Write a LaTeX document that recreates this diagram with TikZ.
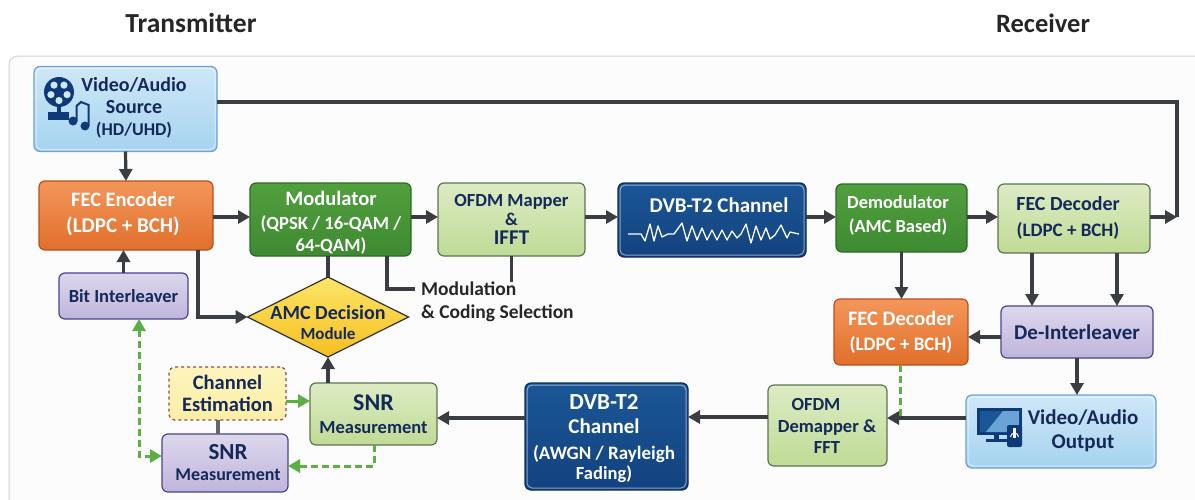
\documentclass[tikz,border=0pt]{standalone}
\usepackage{fontspec}
\setmainfont{Carlito}
\usetikzlibrary{arrows.meta}
\usetikzlibrary{shapes.geometric}
\definecolor{ink}{HTML}{14295A}
\definecolor{wire}{HTML}{3A3D42}
\definecolor{linkgreen}{HTML}{5CAE45}
\definecolor{iconblue}{HTML}{0F3A78}
\definecolor{bluetop}{HTML}{CFE7F7}\definecolor{bluelow}{HTML}{A5D3F0}\definecolor{blueedge}{HTML}{6BA3D6}
\definecolor{orangetop}{HTML}{F4965A}\definecolor{orangelow}{HTML}{E06F2C}\definecolor{orangeedge}{HTML}{B94F1E}
\definecolor{greentop}{HTML}{529F3F}\definecolor{greenlow}{HTML}{3E8A31}\definecolor{greenedge}{HTML}{2A6B24}
\definecolor{paletop}{HTML}{DDEBC4}\definecolor{palelow}{HTML}{BFDB95}\definecolor{paleedge}{HTML}{5B7553}
\definecolor{lilactop}{HTML}{DDD7EC}\definecolor{lilaclow}{HTML}{BFB5DC}\definecolor{lilacedge}{HTML}{4B4390}
\definecolor{navytop}{HTML}{1B5696}\definecolor{navylow}{HTML}{13427F}\definecolor{navyedge}{HTML}{0E2C63}
\definecolor{amctop}{HTML}{FCE566}\definecolor{amclow}{HTML}{F6BE22}
\definecolor{esttop}{HTML}{FDF4BE}\definecolor{estlow}{HTML}{FBEFA6}\definecolor{estedge}{HTML}{8A4B52}
\newcommand{\fs}[1]{\fontsize{#1}{\baselineskip}\selectfont}
\tikzset{
  txt/.style 2 args={align=center, font=\fontsize{#1}{#2}\selectfont\bfseries},
  block/.style={rectangle, rounded corners=6pt, inner sep=0pt, outer sep=0pt, line width=1.2pt, draw},
  bluebox/.style={block, top color=bluetop, bottom color=bluelow, draw=blueedge, text=ink},
  orangebox/.style={block, top color=orangetop, bottom color=orangelow, draw=orangeedge, text=white},
  greenbox/.style={block, top color=greentop, bottom color=greenlow, draw=greenedge, text=white},
  palebox/.style={block, top color=paletop, bottom color=palelow, draw=paleedge, text=ink},
  lilacbox/.style={block, top color=lilactop, bottom color=lilaclow, draw=lilacedge, text=ink},
  navybox/.style={block, top color=navytop, bottom color=navylow, draw=navyedge, text=white},
  flow/.style={wire, line width=3.2pt, -{Triangle[length=12pt,width=13pt]}},
  plainflow/.style={wire, line width=3.2pt},
  softflow/.style={linkgreen, line width=3pt, -{Triangle[length=12pt,width=13pt]}},
  softdash/.style={softflow, dash pattern=on 7pt off 4pt}
}
\begin{document}
\begin{tikzpicture}[x=1pt, y=-1pt]
    \useasboundingbox (0,0) rectangle (1195,499);
    \fill[white] (0,0) rectangle (1195,499);
    \clip (0,0) rectangle (1195,499);
    \draw[black!17, fill=black!1, line width=1pt, rounded corners=9pt] (9,56) rectangle (1215,520);

    \node[txt={27.5}{30}, text=black!85] (txtitle) at (191,23) {Transmitter};
    \node[txt={26.5}{30}, text=black!85] (rxtitle) at (1043,23) {Receiver};

    \node[bluebox, minimum width=183pt, minimum height=85pt] (source) at (125.5,109) {};
    \node[txt={20}{22}, text=ink] (sourcetxt) at (134,108) {Video/Audio\\Source\\\fs{18}(HD/UHD)};
    \node[orangebox, minimum width=174pt, minimum height=69pt] (fecenc) at (126,215.5) {};
    \node[txt={20.5}{26}, text=white] (fecenctxt) at (123,214) {FEC Encoder\\\fs{21}(LDPC + BCH)};
    \node[greenbox, minimum width=161pt, minimum height=73pt] (mod) at (330.5,219.5) {};
    \node[txt={18.6}{21.5}, text=white] (modtxt) at (331,222.5) {\fs{20.5}Modulator\\[2.5pt]\fs{18.6}(QPSK / 16-QAM /\\\fs{18.6}64-QAM)};
    \node[palebox, txt={18}{19}, minimum width=147pt, minimum height=73pt] (mapper) at (511.5,219.5) {\fs{18.5}OFDM Mapper\\\fs{18}\&\\\fs{21}IFFT};
    \node[navybox, minimum width=188pt, minimum height=74pt] (chantop) at (712,220) {};
    \node[txt={21}{24}, text=white] (chantoptxt) at (719,205) {DVB-T2 Channel};
    \node[greenbox, minimum width=131pt, minimum height=68pt] (demod) at (901.5,218) {};
    \node[txt={18.4}{24}, text=white] (demodtxt) at (898,215) {Demodulator\\(AMC Based)};
    \node[palebox, minimum width=152pt, minimum height=69pt] (fecdec) at (1074,218.5) {};
    \node[txt={20}{26}, text=ink] (fecdectxt) at (1068,218) {FEC Decoder\\\fs{19}(LDPC + BCH)};
    \node[lilacbox, txt={18.5}{22}, minimum width=129pt, minimum height=46pt] (bitint) at (123.5,296) {Bit Interleaver};
    \node[diamond, aspect=2, inner sep=0pt, outer sep=0pt, draw=black!80, line width=1.2pt, top color=amctop, bottom color=amclow, minimum width=161pt, minimum height=80pt] (amc) at (328,317) {};
    \node[txt={20}{20}, text=ink] (amctxt) at (328,323) {AMC Decision\\\fs{17}Module};
    \node[txt={19.5}{23}, align=left, anchor=west, inner sep=0pt, text=black!85] (modsel) at (421,302) {Modulation\\\& Coding Selection};
    \node[orangebox, txt={20.5}{25}, minimum width=134pt, minimum height=66pt] (fecorange) at (901,332) {FEC Decoder\\\fs{19}(LDPC + BCH)};
    \node[lilacbox, txt={21}{24}, minimum width=152pt, minimum height=52pt] (deint) at (1077,332) {De-Interleaver};
    \node[block, draw=estedge, dashed, top color=esttop, bottom color=estlow, text=ink, txt={20.5}{22}, minimum width=117pt, minimum height=53pt] (chanest) at (227.5,393.5) {Channel\\Estimation};
    \node[palebox, txt={20}{23}, minimum width=127pt, minimum height=62pt] (snrup) at (373.5,414) {\fs{24}SNR\\\fs{18.5}Measurement};
    \node[lilacbox, minimum width=126pt, minimum height=58pt] (snrlow) at (225,463) {};
    \node[txt={18}{21}, text=ink] (snrlowtxt) at (228,463) {\fs{23}SNR\\\fs{18}Measurement};
    \node[navybox, minimum width=163pt, minimum height=107pt] (chanlow) at (606.5,436.5) {};
    \node[txt={21}{22}, text=white] (chanlowtxt) at (604,439) {\fs{23}DVB-T2\\[2pt]\fs{21}Channel\\[4pt]\fs{19}(AWGN / Rayleigh\\[-2pt]\fs{18.5}Fading)};
    \node[palebox, minimum width=119pt, minimum height=81pt] (demapper) at (827.5,425.5) {};
    \node[txt={18.5}{21.5}, text=ink] (demappertxt) at (827,426) {OFDM\hspace*{22pt}\\Demapper \&\\FFT};
    \node[bluebox, minimum width=190pt, minimum height=73pt] (output) at (1061,431.5) {};
    \node[txt={21}{24}, text=ink] (outputtxt) at (1083,431) {Video/Audio\\Output};

    \foreach \n in {source, output, chantop, chanlow}{
      \draw[white, opacity=0.5, line width=1pt, rounded corners=5pt] ([shift={(2,2)}]\n.north west) rectangle ([shift={(-2,-2)}]\n.south east);
    }

    \begin{scope}[iconblue]
      \fill (59,92) circle (15);
      \foreach \a in {18, 90, 162, 234, 306}{
        \fill[bluetop] (59,92) ++(\a:8.5) circle (3.6);
      }
      \fill (57,105) rectangle (61,113);
      \fill (48,112) rectangle (69,120);
      \fill (73,121) circle (4.5) (85,126) circle (4.5);
      \draw[line width=2pt] (76.5,121) -- (76.5,106) -- (81,102) -- (88.7,105) -- (88.7,126);
    \end{scope}
    \begin{scope}[iconblue]
      \fill (977,408) rectangle (1022,435);
      \fill[navytop] (980,411) rectangle (1019,432);
      \fill[blueedge] (986,432) -- (1003,411) -- (1019,411) -- (1019,425) -- (1007,432) -- cycle;
      \fill (994,435) rectangle (999,440);
      \fill (986,439) rectangle (1008,441.5);
      \fill[rounded corners=2pt] (1007,425) rectangle (1022,447);
      \fill[white] (1013,428) rectangle (1016,438);
      \draw[white, line width=1pt] (1010.5,437) arc (180:360:4 and 4);
    \end{scope}
    \draw[white, line width=1.3pt, line join=round] plot coordinates {(628,234) (641,234) (645,241) (650,224) (654,241) (658,226) (662,237) (668,234) (674,234) (682,223) (687,241) (692,226) (697,240) (702,228) (707,240) (712,230) (717,240) (722,230) (727,240) (732,231) (737,238) (741,234) (746,224) (751,243) (756,226) (761,240) (766,228) (770,239) (775,235) (781,225) (787,238) (790,232) (799,234)};

    \coordinate (mainline) at (0,217);
    \coordinate (corner) at (1177,217);
    \coordinate (tap) at (900,418);
    \coordinate (lowline) at (0,417);
    \draw[plainflow] (source.east |- 0,102) -| (corner);
    \draw[flow] (source.south) -- (fecenc.north);
    \draw[flow] (bitint.north) -- (bitint.north |- fecenc.south);
    \foreach \a/\b in {fecenc/mod.west, mod/mapper.west, mapper/chantop.west, chantop/demod.west, demod/fecdec.west, fecdec/corner}{
      \draw[flow] (\a.east |- mainline) -- (\b |- mainline);
    }
    \draw[plainflow] (amc.north |- mod.south) -- (amc.north);
    \draw[flow] ([xshift=72pt]fecenc.south) |- (amc.west);
    \draw[plainflow] ([xshift=56.5pt]mod.south) |- (415,289);
    \draw[plainflow] (mapper.south) -- (mapper.south |- modsel.north);
    \draw[flow] (demod.south) -- (demod.south |- fecorange.north);
    \foreach \x in {-42, 43}{
      \draw[flow] ([xshift=\x pt]fecdec.south) -- ([xshift=\x pt]fecdec.south |- deint.north);
    }
    \draw[flow] ([yshift=-5pt]deint.west) -- ([yshift=-5pt]deint.west -| fecorange.east);
    \draw[flow] (deint.south) -- (deint.south |- output.north);
    \draw[softdash, -] (fecorange.south -| tap) -- (tap);
    \draw[flow] (output.west |- 0,418) -- (demapper.east |- 0,418);
    \draw[flow] (demapper.west |- lowline) -- (chanlow.east |- lowline);
    \draw[flow] (chanlow.west |- 0,418) -- (snrup.east |- 0,418);
    \draw[flow] (amc.south |- snrup.north) -- (amc.south);
    \draw[softflow] (chanest.east |- 0,401) -- (snrup.west |- 0,401);
    \draw[plainflow, black!60] (chanest.south -| 218,0) -- (snrlow.north -| 218,0);
    \draw[softdash] (snrup.south -| 374,0) |- (snrlow.east |- 0,466);
    \draw[softdash, {Triangle[length=12pt,width=13pt]}-{Triangle[length=12pt,width=13pt]}] ([xshift=15.5pt]bitint.south) |- (snrlow.west |- 0,456);
  \end{tikzpicture}
\end{document}
